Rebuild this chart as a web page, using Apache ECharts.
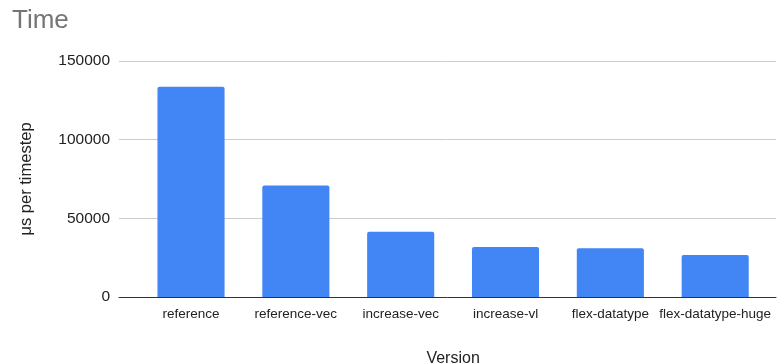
<!DOCTYPE html>
<html>
<head>
<meta charset="utf-8">
<style>
  html, body { margin: 0; padding: 0; background: #fff; }
  #chart { width: 777px; height: 363px; }
</style>
<script src="https://cdn.jsdelivr.net/npm/echarts@6/dist/echarts.min.js"></script>
</head>
<body>
<div id="chart"></div>
<script>
// Time per timestep for each version
const versions = ['reference', 'reference-vec', 'increase-vec', 'increase-vl', 'flex-datatype', 'flex-datatype-huge'];
const timePerStep = [133600, 70800, 41500, 31800, 31000, 26700];
const yTicks = [0, 50000, 100000, 150000];

const FONT = '"Liberation Sans", Arial, sans-serif';
const chart = echarts.init(document.getElementById('chart'), null, { renderer: 'canvas' });

chart.setOption({
  animation: false,
  backgroundColor: '#ffffff',
  title: {
    text: 'Time',
    left: 12,
    top: 8,
    padding: 0,
    textStyle: { fontFamily: FONT, fontSize: 26, fontWeight: 'normal', color: '#757575' }
  },
  grid: [
    { left: 119, right: 1, top: 61, bottom: 66, outerBoundsMode: 'none', containLabel: false },
    { left: 138.6, right: 9.4, top: 61, bottom: 66, outerBoundsMode: 'none', containLabel: false }
  ],
  xAxis: [
    {
      gridIndex: 0, type: 'value', min: 0, max: 1,
      axisLine: { show: true, lineStyle: { color: '#333333', width: 1 } },
      axisTick: { show: false }, axisLabel: { show: false }, splitLine: { show: false }
    },
    {
      gridIndex: 1, type: 'category', data: versions,
      axisLine: { show: false }, axisTick: { show: false },
      axisLabel: { interval: 0, margin: 10, fontFamily: FONT, fontSize: 13.5, color: '#222222' },
      name: 'Version', nameLocation: 'middle', nameGap: 54,
      nameTextStyle: { fontFamily: FONT, fontSize: 16, color: '#222222' }
    }
  ],
  yAxis: [
    {
      gridIndex: 0, type: 'value', min: yTicks[0], max: yTicks[yTicks.length - 1],
      interval: yTicks[1] - yTicks[0],
      axisLine: { show: false }, axisTick: { show: false },
      axisLabel: { margin: 9, fontFamily: FONT, fontSize: 15.5, color: '#222222', formatter: v => String(v) },
      splitLine: { show: true, lineStyle: { color: '#cccccc', width: 1 } },
      name: 'μs per timestep', nameLocation: 'middle', nameGap: 84, nameRotate: 90,
      nameTextStyle: { fontFamily: FONT, fontSize: 16.5, color: '#222222' }
    },
    {
      gridIndex: 1, type: 'value', min: yTicks[0], max: yTicks[yTicks.length - 1],
      show: false
    }
  ],
  series: [
    {
      type: 'bar', xAxisIndex: 1, yAxisIndex: 1,
      data: timePerStep,
      barCategoryGap: '36%',
      itemStyle: { color: '#4285f4', borderRadius: [2, 2, 0, 0] }
    }
  ]
});
</script>
</body>
</html>
